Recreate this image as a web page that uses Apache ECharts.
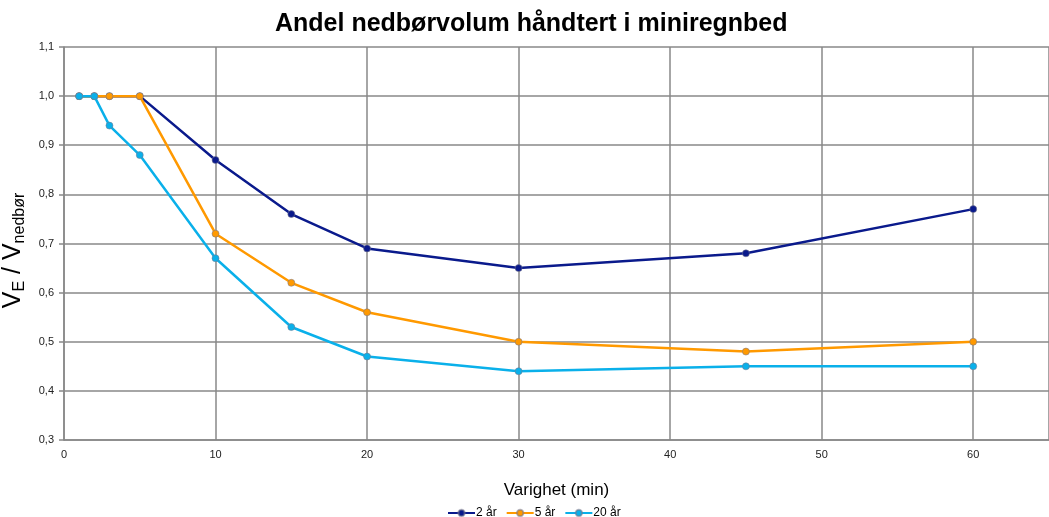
<!DOCTYPE html>
<html>
<head>
<meta charset="utf-8">
<script src="https://cdn.jsdelivr.net/npm/echarts@6/dist/echarts.min.js"></script>
<style>html,body{margin:0;padding:0;background:#fff}#c{width:1049px;height:517px}</style>
</head>
<body>
<div id="c"></div>
<script>
const durations = [1, 2, 3, 5, 10, 15, 20, 30, 45, 60];
const seriesNames = ['2 år', '5 år', '20 år'];
const values2 = [1.0, 1.0, 1.0, 1.0, 0.87, 0.76, 0.69, 0.65, 0.68, 0.77];
const values5 = [1.0, 1.0, 1.0, 1.0, 0.72, 0.62, 0.56, 0.50, 0.48, 0.50];
const values20 = [1.0, 1.0, 0.94, 0.88, 0.67, 0.53, 0.47, 0.44, 0.45, 0.45];
const colors = ['#0a1a8c', '#ff9900', '#0ab0ea'];
const allValues = [values2, values5, values20];

const font = 'Liberation Sans, Arial, sans-serif';
const chart = echarts.init(document.getElementById('c'));
chart.setOption({
  animation: false,
  textStyle: { fontFamily: font },
  title: {
    text: 'Andel nedbørvolum håndtert i miniregnbed',
    left: 270, top: 7,
    textStyle: { fontFamily: font, fontSize: 25, fontWeight: 'bold', color: '#000' }
  },
  legend: {
    top: 502, left: 442,
    itemWidth: 27, itemHeight: 8, itemGap: 9,
    textStyle: { fontFamily: font, fontSize: 12, color: '#000', padding: [0, 0, 0, -4] },
    data: seriesNames
  },
  grid: { left: 64, right: 0, top: 47, bottom: 77, outerBoundsMode: 'none', containLabel: false },
  xAxis: {
    type: 'value', min: 0, max: 65, interval: 10,
    name: 'Varighet (min)', nameLocation: 'middle', nameGap: 42,
    nameTextStyle: { fontFamily: font, fontSize: 17, color: '#000' },
    axisLine: { lineStyle: { color: '#888', width: 1.5 } },
    axisTick: { show: false },
    axisLabel: { showMaxLabel: false, fontSize: 11, color: '#222', margin: 9,
      formatter: v => (v > 60 ? '' : String(v)) },
    splitLine: { show: true, lineStyle: { color: '#888', width: 1.5 } }
  },
  yAxis: {
    type: 'value', min: 0.3, max: 1.1, interval: 0.1,
    name: '{m|V}{s|E}{m| / V}{s|nedbør}', nameLocation: 'middle', nameGap: 31, nameRotate: 90,
    nameTextStyle: {
      padding: [0, 14, 0, 0],
      rich: {
        m: { fontFamily: font, fontSize: 25, color: '#000', verticalAlign: 'bottom', lineHeight: 28, padding: [0, 0, 2, 0] },
        s: { fontFamily: font, fontSize: 16, color: '#000', verticalAlign: 'bottom', lineHeight: 18 }
      }
    },
    axisLine: { show: true, lineStyle: { color: '#888', width: 1.5 } },
    axisTick: { show: true, inside: false, length: 5, lineStyle: { color: '#888', width: 1.5 } },
    axisLabel: { fontSize: 11, color: '#222', margin: 10,
      formatter: v => v.toFixed(1).replace('.', ',') },
    splitLine: { show: true, lineStyle: { color: '#888', width: 1.5 } }
  },
  series: seriesNames.map((n, i) => ({
    name: n, type: 'line',
    data: durations.map((d, j) => [d, allValues[i][j]]),
    symbol: 'circle', symbolSize: 7,
    lineStyle: { color: colors[i], width: 2.5 },
    itemStyle: { color: colors[i], borderColor: 'rgba(120,120,140,0.55)', borderWidth: 1 },
    z: 2 + i
  }))
});
</script>
</body>
</html>
